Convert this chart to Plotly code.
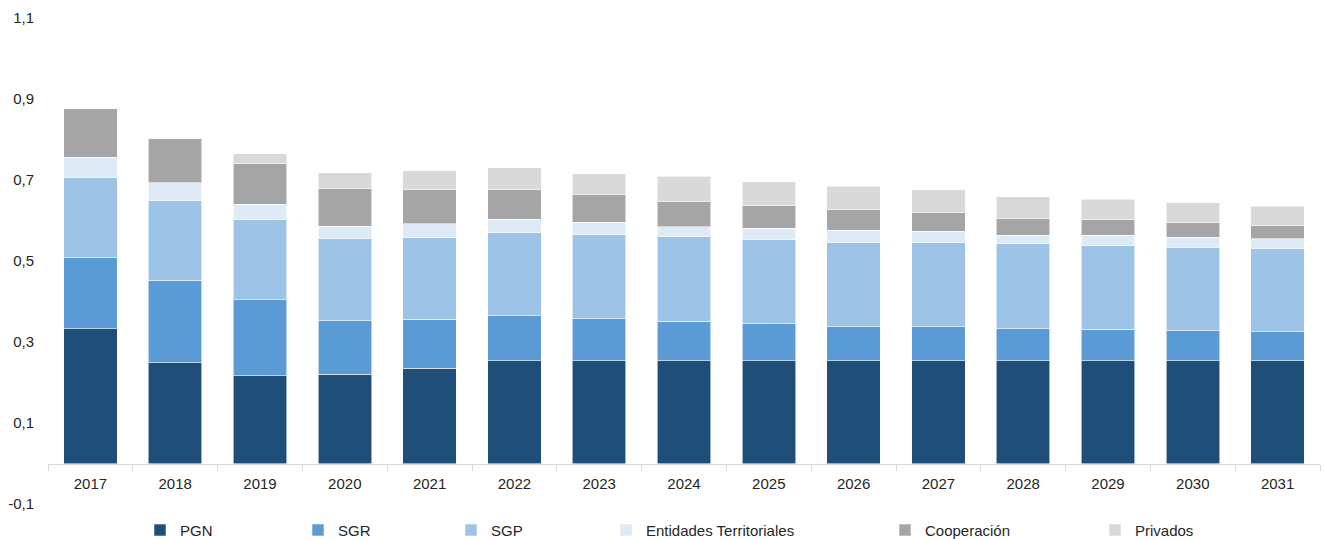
import plotly.graph_objects as go

years = [str(y) for y in range(2017, 2032)]
pgn = [0.333, 0.249, 0.217, 0.221, 0.235, 0.254, 0.254, 0.254, 0.254, 0.254, 0.254, 0.254, 0.254, 0.254, 0.254]
sgr = [0.175, 0.203, 0.187, 0.132, 0.121, 0.111, 0.103, 0.097, 0.091, 0.084, 0.084, 0.079, 0.078, 0.074, 0.071]
sgp = [0.197, 0.197, 0.198, 0.203, 0.202, 0.205, 0.208, 0.209, 0.208, 0.208, 0.208, 0.209, 0.206, 0.206, 0.206]
entidades = [0.051, 0.044, 0.038, 0.030, 0.034, 0.033, 0.031, 0.024, 0.028, 0.030, 0.028, 0.021, 0.025, 0.025, 0.024]
cooperacion = [0.120, 0.110, 0.100, 0.092, 0.084, 0.074, 0.069, 0.063, 0.057, 0.051, 0.047, 0.042, 0.039, 0.035, 0.032]
privados = [0.000, 0.000, 0.025, 0.040, 0.047, 0.053, 0.051, 0.062, 0.058, 0.058, 0.055, 0.054, 0.050, 0.050, 0.048]

series = [
    ("PGN", pgn, "#1F4E79"),
    ("SGR", sgr, "#5B9BD5"),
    ("SGP", sgp, "#9DC3E6"),
    ("Entidades Territoriales", entidades, "#DEEBF7"),
    ("Cooperación", cooperacion, "#A5A5A5"),
    ("Privados", privados, "#D9D9D9"),
]

yticks = [-0.1, 0.1, 0.3, 0.5, 0.7, 0.9, 1.1]
yticktext = [f"{v:.1f}".replace(".", ",") for v in yticks]

# plot area pixel geometry (for legend placement)
L, R = 48, 1320
W = R - L
marker_px = [172, 330, 483, 638, 917, 1127]

fig = go.Figure()
for i, (name, vals, col) in enumerate(series):
    lg = "legend" if i == 0 else f"legend{i+1}"
    fig.add_trace(go.Bar(
        x=years, y=vals, name=name,
        marker=dict(color=col, line=dict(color="rgba(255,255,255,0.7)", width=0.8)),
        legend=lg,
    ))

font = dict(family="Liberation Sans, Arial, sans-serif", size=15, color="#262626")
layout = dict(
    barmode="stack",
    bargap=0.37,
    width=1325, height=539,
    margin=dict(l=L, r=1325 - R, t=18, b=35, autoexpand=False),
    paper_bgcolor="white", plot_bgcolor="white",
    font=font,
    showlegend=True,
    xaxis=dict(
        type="category",
        anchor="free", position=0.1 / 1.2,
        showline=True, linecolor="#D9D9D9", linewidth=1,
        ticks="outside", tickson="boundaries", ticklen=6, tickcolor="#D9D9D9",
        ticklabelstandoff=6,
        showgrid=False, zeroline=False,
        tickfont=font, automargin=False,
    ),
    yaxis=dict(
        range=[-0.1, 1.1],
        tickvals=yticks, ticktext=yticktext,
        showgrid=False, zeroline=False, showline=False,
        ticks="", ticklabelstandoff=13,
        tickfont=font, automargin=False,
    ),
)
for i in range(len(series)):
    key = "legend" if i == 0 else f"legend{i+1}"
    layout[key] = dict(
        x=(marker_px[i] - 32 - L) / W, y=-0.054,
        xanchor="left", yanchor="middle",
        orientation="h", bgcolor="rgba(0,0,0,0)",
        font=font,
    )
fig.update_layout(**layout)

fig.write_html(
    "out.html",
    config={"displayModeBar": False},
    post_script="document.body.style.margin='0';document.body.style.overflow='hidden';",
)
